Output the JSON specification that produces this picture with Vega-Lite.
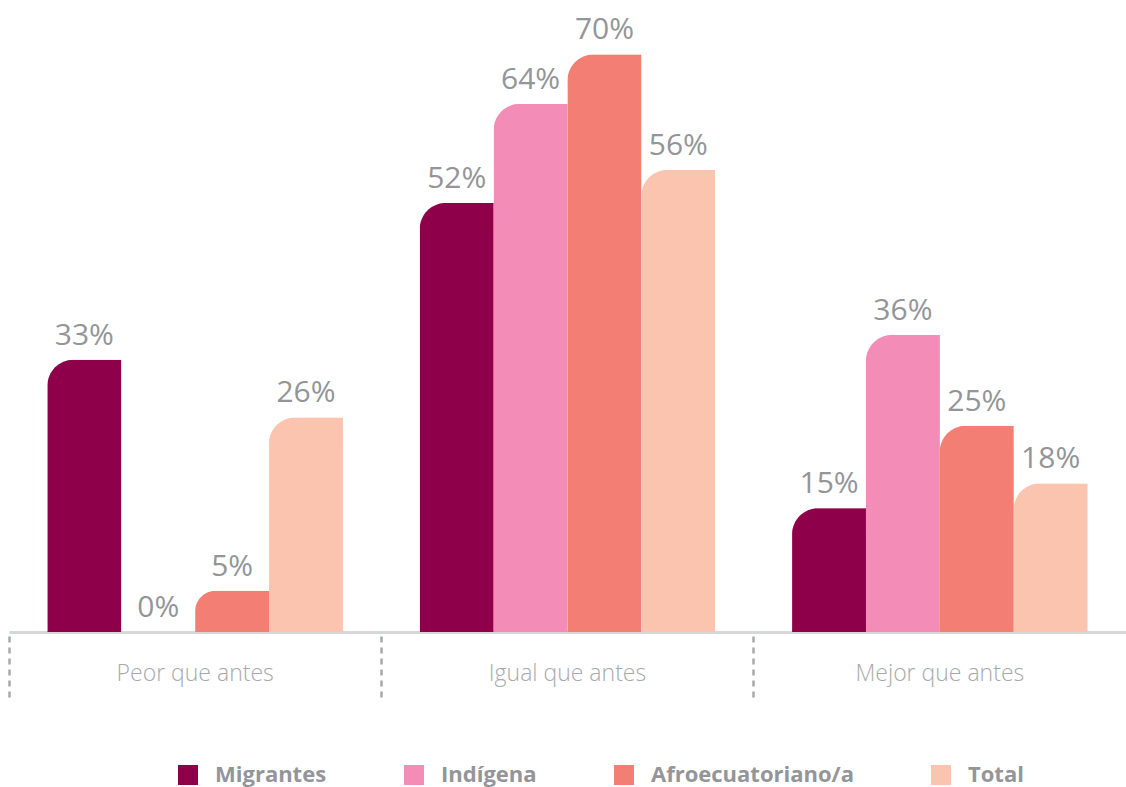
{
  "$schema": "https://vega.github.io/schema/vega-lite/v6.json",
  "autosize": "none",
  "width": 1117,
  "height": 632,
  "padding": {"left": 9, "top": 0, "right": 0, "bottom": 155},
  "background": "white",
  "config": {"view": {"stroke": null}},
  "data": {
    "values": [
      {"categoria": "Peor que antes", "grupo": "Migrantes", "valor": 0.33},
      {"categoria": "Peor que antes", "grupo": "Indígena", "valor": 0.0},
      {"categoria": "Peor que antes", "grupo": "Afroecuatoriano/a", "valor": 0.05},
      {"categoria": "Peor que antes", "grupo": "Total", "valor": 0.26},
      {"categoria": "Igual que antes", "grupo": "Migrantes", "valor": 0.52},
      {"categoria": "Igual que antes", "grupo": "Indígena", "valor": 0.64},
      {"categoria": "Igual que antes", "grupo": "Afroecuatoriano/a", "valor": 0.70},
      {"categoria": "Igual que antes", "grupo": "Total", "valor": 0.56},
      {"categoria": "Mejor que antes", "grupo": "Migrantes", "valor": 0.15},
      {"categoria": "Mejor que antes", "grupo": "Indígena", "valor": 0.36},
      {"categoria": "Mejor que antes", "grupo": "Afroecuatoriano/a", "valor": 0.25},
      {"categoria": "Mejor que antes", "grupo": "Total", "valor": 0.18}
    ]
  },
  "encoding": {
    "x": {
      "field": "categoria",
      "type": "nominal",
      "sort": ["Peor que antes", "Igual que antes", "Mejor que antes"],
      "scale": {"paddingInner": 0, "paddingOuter": 0},
      "axis": {
        "title": null,
        "labelAngle": 0,
        "labelFont": "Open Sans",
        "labelFontWeight": 300,
        "labelFontSize": 23,
        "labelColor": "#a7a9ac",
        "labelBaseline": "middle",
        "labelPadding": -27,
        "domainColor": "#d6d8d8",
        "domainWidth": 3,
        "bandPosition": 0,
        "ticks": true,
        "tickSize": 68,
        "tickColor": "#a7a9ac",
        "tickWidth": 2.5,
        "tickDash": [6, 5],
        "tickDashOffset": -4
      }
    },
    "xOffset": {
      "field": "grupo",
      "type": "nominal",
      "sort": ["Migrantes", "Indígena", "Afroecuatoriano/a", "Total"],
      "scale": {"paddingInner": 0, "paddingOuter": 0.52}
    },
    "y": {
      "field": "valor",
      "type": "quantitative",
      "scale": {"domain": [0, 0.766], "nice": false, "zero": true},
      "axis": null
    }
  },
  "layer": [
    {
      "mark": {"type": "bar", "cornerRadiusTopLeft": 26},
      "encoding": {
        "color": {
          "field": "grupo",
          "type": "nominal",
          "sort": ["Migrantes", "Indígena", "Afroecuatoriano/a", "Total"],
          "scale": {
            "domain": ["Migrantes", "Indígena", "Afroecuatoriano/a", "Total"],
            "range": ["#8f004b", "#f38cb7", "#f37e74", "#fac4af"]
          },
          "legend": {
            "title": null,
            "orient": "none",
            "direction": "horizontal",
            "legendX": 168,
            "legendY": 764,
            "symbolType": "square",
            "symbolSize": 400,
            "symbolStrokeWidth": 0,
            "labelOffset": 16,
            "columnPadding": 76,
            "labelFont": "Open Sans",
            "labelFontWeight": "bold",
            "labelFontSize": 22,
            "labelColor": "#939598",
            "labelLimit": 400
          }
        },
        "stroke": {
          "field": "grupo",
          "type": "nominal",
          "scale": {
            "domain": ["Migrantes", "Indígena", "Afroecuatoriano/a", "Total"],
            "range": ["#8f004b", "#f38cb7", "#f37e74", "#fac4af"]
          },
          "legend": null
        },
        "strokeWidth": {
          "condition": {"test": "datum.valor > 0", "value": 1},
          "value": 0
        }
      }
    },
    {
      "mark": {
        "type": "text",
        "baseline": "alphabetic",
        "dy": -15,
        "font": "Open Sans",
        "fontSize": 30,
        "color": "#939598"
      },
      "encoding": {
        "text": {"field": "valor", "type": "quantitative", "format": ".0%"}
      }
    }
  ]
}
